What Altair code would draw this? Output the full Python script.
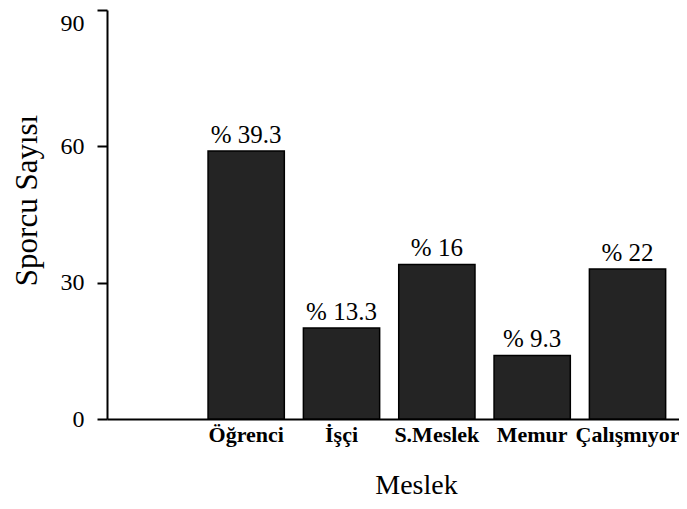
import altair as alt
import pandas as pd

categories = ["Öğrenci", "İşçi", "S.Meslek", "Memur", "Çalışmıyor"]
counts = [59, 20, 34, 14, 33]
pct_labels = ["% 39.3", "% 13.3", "% 16", "% 9.3", "% 22"]
y_ticks = [0, 30, 60, 90]

df = pd.DataFrame({"Meslek": categories, "Sayi": counts, "Yuzde": pct_labels})
domain = [" "] + categories

FONT = "Liberation Serif"

x = alt.X(
    "Meslek:N",
    scale=alt.Scale(domain=domain, paddingInner=0.2, paddingOuter=0.1, align=0.3),
    axis=alt.Axis(
        title="Meslek",
        labelAngle=0,
        ticks=False,
        labelFont=FONT,
        labelFontSize=22,
        labelFontWeight="bold",
        labelPadding=5,
        labelColor="black",
        titleFont=FONT,
        titleFontSize=28,
        titleFontWeight="normal",
        titleColor="black",
        titleX=309,
        titleY=74,
        titleBaseline="alphabetic",
        domainColor="black",
        domainWidth=2,
    ),
)
y = alt.Y(
    "Sayi:Q",
    scale=alt.Scale(domain=[0, 90], nice=False),
    axis=alt.Axis(
        values=y_ticks,
        title="Sporcu Sayısı",
        grid=False,
        tickSize=10,
        tickWidth=2,
        tickColor="black",
        domainColor="black",
        domainWidth=2,
        labelFont=FONT,
        labelFontSize=24,
        labelPadding=13,
        labelColor="black",
        labelOffset={"condition": {"test": "datum.value == 90", "value": 13}, "value": 0},
        titleFont=FONT,
        titleFontSize=31,
        titleFontWeight="normal",
        titleColor="black",
        titleAngle=270,
        titleX=-71,
        titleY=190,
        titleAlign="center",
        titleBaseline="alphabetic",
    ),
)

bars = alt.Chart(df).mark_bar(color="#242424", stroke="black", strokeWidth=1.5).encode(x=x, y=y)
texts = alt.Chart(df).mark_text(
    dy=-8, baseline="alphabetic", fontSize=25, font=FONT, color="black"
).encode(x=alt.X("Meslek:N"), y=alt.Y("Sayi:Q"), text="Yuzde:N")

chart = (
    alt.layer(bars, texts)
    .properties(
        width=572,
        height=409,
        autosize=alt.AutoSizeParams(type="none"),
        padding={"left": 99, "top": 2, "right": 0, "bottom": 82},
    )
    .configure(font=FONT)
    .configure_view(strokeWidth=0)
)

chart.save("out.html", embed_options={"renderer": "svg", "actions": False})
